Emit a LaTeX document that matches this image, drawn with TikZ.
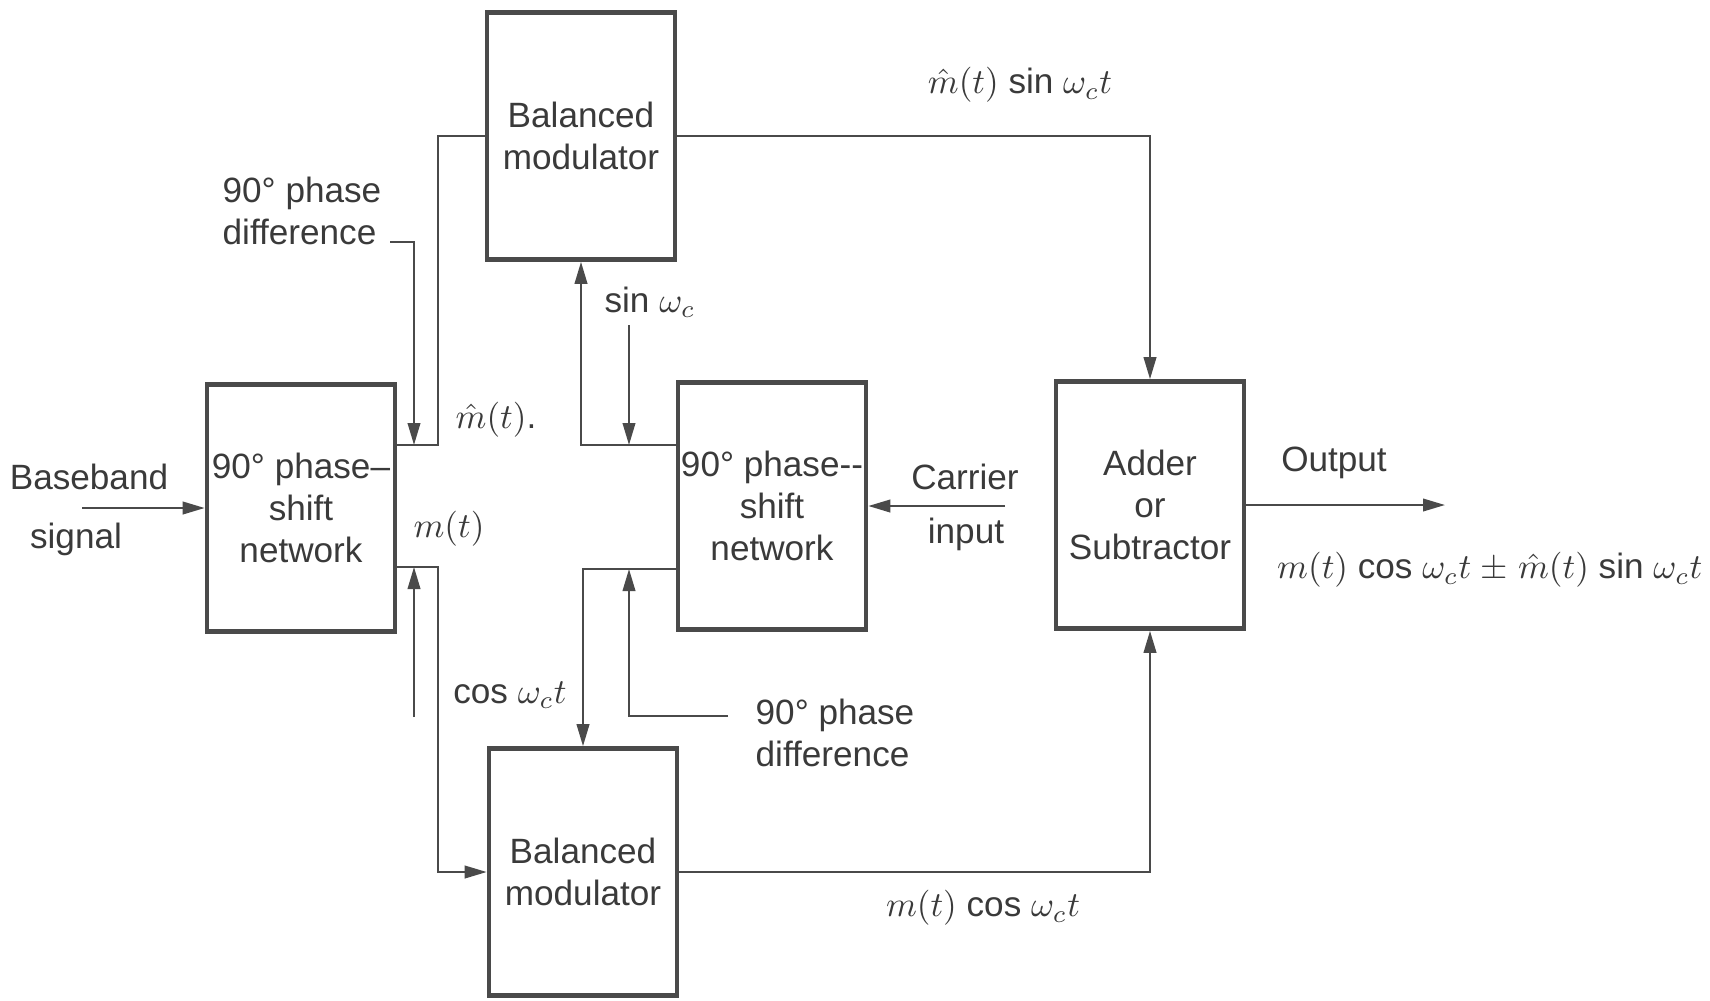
\documentclass[tikz,border=0pt]{standalone}
\usepackage{fontspec}
\setmainfont{Liberation Sans}
\usepackage{tikz}
\usetikzlibrary{arrows.meta}
\definecolor{ink}{HTML}{4A4A4A}
\definecolor{txt}{HTML}{3A3A3A}
\tikzset{
  every picture/.style={font={\fontsize{10}{12}\selectfont}, line join=miter, >={Triangle[length=2.2mm,width=1.25mm]}},
  blk/.style={draw=ink, line width=1.3pt, minimum width=18.8mm, minimum height=24.7mm, align=center, text=txt, inner sep=0pt},
  wire/.style={draw=ink, line width=0.65pt},
  lbl/.style={text=txt, inner sep=0pt, align=left},
}

\begin{document}
\begin{tikzpicture}[x=0.1mm,y=-0.1mm]
\useasboundingbox (0,0) rectangle (1710,1000);
\node[blk] (bmu) at (581,136) {Balanced\\modulator};
\node[blk] (psl) at (301,508) {90° phase--\\shift\\network};
\node[blk] (psm) at (772,506) {90° phase-{}-\\shift\\network};
\node[blk] (add) at (1150,505) {Adder\\or\\Subtractor};
\node[blk] (bml) at (583,872) {Balanced\\modulator};
\coordinate (bin) at (82,508); \coordinate (cin) at (1005,506); \coordinate (out) at (1445,505);
\coordinate (ju) at (438,445); \coordinate (jl) at (438,567);
\coordinate (au) at (414,445); \coordinate (al) at (414,567);
\coordinate (pdu) at (390,242); \coordinate (pdl) at (414,717);
\coordinate (sa) at (629,445); \coordinate (ca) at (629,569);
\coordinate (sl) at (629,325); \coordinate (cl) at (728,716);
\draw[wire,->] (bin) -- (psl.west |- bin);
\draw[wire] (psl.east |- ju) -- (ju) |- (bmu.west);
\draw[wire,->] (psl.east |- jl) -- (jl) |- (bml.west);
\draw[wire,->] (pdu) -| (au);
\draw[wire,->] (pdl) -- (al);
\draw[wire,->] (psm.west |- sa) -| (bmu.south);
\draw[wire,->] (psm.west |- ca) -| (bml.north);
\draw[wire,->] (sl) -- (sa);
\draw[wire,->] (cl) -| (ca);
\draw[wire,->] (cin) -- (psm.east |- cin);
\draw[wire,->] (bmu.east) -| (add.north);
\draw[wire,->] (bml.east) -| (add.south);
\draw[wire,->] (add.east |- out) -- (out);
\node[lbl] (tbb) at (89,477) {Baseband};
\node[lbl] (tsg) at (76,539) {signal};
\node[lbl] (tpu) at (302,211) {90° phase\\difference};
\node[lbl] (tpl) at (835,733) {90° phase\\difference};
\node[lbl] (tmh) at (496,420) {$\hat{m}(t)$.};
\node[lbl] (tm) at (449,529) {$m(t)$};
\node[lbl] (tsn) at (650,302) {sin $\omega_c$};
\node[lbl] (tcs) at (510,695) {cos $\omega_c t$};
\node[lbl] (tca) at (965,477) {Carrier};
\node[lbl] (tin) at (966,534) {input};
\node[lbl] (tus) at (1020,85) {$\hat{m}(t)$ sin $\omega_c t$};
\node[lbl] (tlc) at (983,908) {$m(t)$ cos $\omega_c t$};
\node[lbl] (tou) at (1334,463) {Output};
\node[lbl,anchor=east] (tfo) at (1703,570) {$m(t)$ cos $\omega_c t$ $\pm$ $\hat{m}(t)$ sin $\omega_c t$};
\end{tikzpicture}
\end{document}
